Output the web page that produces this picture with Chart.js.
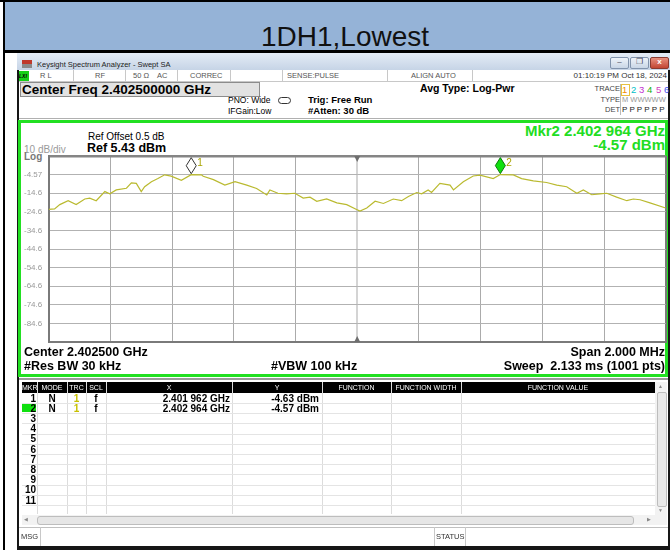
<!DOCTYPE html>
<html lang="en">
<head>
<meta charset="UTF-8">
<title>1DH1,Lowest</title>
<script src="https://cdn.jsdelivr.net/npm/chart.js"></script>
<style>
    body {
        margin: 0;
        width: 670px;
        height: 550px;
        position: relative;
        overflow: hidden;
        background: #fff;
        font-family: "Liberation Sans", Arial, sans-serif;
        color: #000;
    }
    .a { position: absolute; white-space: nowrap; line-height: 1; }
    .b { font-weight: bold; }
    .r { text-align: right; }
    .c { text-align: center; }
    .st { font-size: 7.5px; color: #555; top: 72px; }
    .vl { position: absolute; width: 1px; background: #c8c8c8; }
    .hl { position: absolute; height: 1px; background: #e4e4e4; }
    .th { font-size: 7px; color: #fff; top: 384px; }
    .row { font-size: 10px; font-weight: bold; }
    #sa { position: absolute; left: 20px; top: 121px; }
</style>
</head>
<body>
<script>
    // trace 1 (MHz, dBm)
    const freqMHz = [
        2401.500, 2401.519, 2401.536, 2401.563, 2401.589, 2401.617, 2401.633, 2401.654,
        2401.682, 2401.698, 2401.719, 2401.752, 2401.768, 2401.784, 2401.800, 2401.811,
        2401.833, 2401.854, 2401.876, 2401.897, 2401.930, 2401.962, 2401.995, 2402.001,
        2402.034, 2402.071, 2402.104, 2402.142, 2402.174, 2402.207, 2402.217, 2402.243,
        2402.271, 2402.298, 2402.325, 2402.347, 2402.369, 2402.401, 2402.434, 2402.466,
        2402.498, 2402.509, 2402.531, 2402.558, 2402.585, 2402.617, 2402.644, 2402.666,
        2402.693, 2402.709, 2402.730, 2402.741, 2402.768, 2402.801, 2402.812, 2402.844,
        2402.876, 2402.898, 2402.941, 2402.964, 2403.006, 2403.033, 2403.071, 2403.114,
        2403.147, 2403.179, 2403.212, 2403.233, 2403.260, 2403.287, 2403.309, 2403.341,
        2403.374, 2403.395, 2403.417, 2403.449, 2403.500
    ];
    const levelDbm = [
        -23.3, -23.0, -20.7, -18.6, -20.7, -17.7, -17.2, -18.6,
        -13.7, -14.9, -12.8, -11.9, -9.0, -9.3, -13.7, -11.1,
        -8.4, -6.7, -4.7, -5.4, -7.6, -4.63, -4.7, -5.5,
        -7.3, -10.2, -8.4, -10.2, -12.0, -15.5, -12.8, -14.6,
        -14.9, -14.6, -17.2, -16.7, -18.9, -17.6, -19.8, -20.7,
        -23.3, -24.2, -22.5, -18.9, -20.1, -17.7, -18.6, -16.3,
        -14.2, -14.9, -12.8, -14.2, -9.3, -10.2, -12.8, -8.4,
        -5.3, -4.9, -6.7, -4.57, -4.7, -6.7, -7.9, -8.8,
        -10.2, -11.1, -14.6, -12.8, -15.4, -14.9, -14.6, -16.7,
        -18.6, -17.7, -18.1, -19.8, -22.5
    ];

    const xTicks = [2401.5, 2401.7, 2401.9, 2402.1, 2402.3, 2402.5, 2402.7, 2402.9, 2403.1, 2403.3, 2403.5];
    const yTicks = [-94.57, -84.57, -74.57, -64.57, -54.57, -44.57, -34.57, -24.57, -14.57, -4.57, 5.43];
    const yTickLabels = ['', '-84.6', '-74.6', '-64.6', '-54.6', '-44.6', '-34.6', '-24.6', '-14.6', '-4.57', ''];

    const markerNames = ['1', '2'];
    const markerFreq = [2401.962, 2402.964];
    const markerLevel = [-4.63, -4.57];
    const markerFill = ['#ffffff', '#10e010'];
    const markerEdge = ['#333333', '#0a7a0a'];
    const centerFreq = 2402.5;
</script>

<!-- outer frame and title -->
<div class="a" style="left:0;top:0;width:670px;height:2px;background:#000"></div>
<div class="a" style="left:3px;top:0;width:2px;height:550px;background:#000"></div>
<div class="a" style="left:5px;top:2px;width:665px;height:48px;background:#95b3d7"></div>
<div class="a" style="left:261px;top:23px;font-size:28px;color:#111">1DH1,Lowest</div>
<div class="a" style="left:5px;top:50px;width:665px;height:3px;background:#000"></div>

<!-- analyzer window -->
<div class="a" style="left:17px;top:53px;width:653px;height:497px;background:#161616"></div>
<div class="a" style="left:17px;top:53px;width:653px;height:17px;background:linear-gradient(#e4ecf6,#c6d4e6)"></div>
<div class="a" style="left:22px;top:60px;width:10px;height:4px;background:#c0392b"></div>
<div class="a" style="left:22px;top:64px;width:10px;height:4px;background:#8a8a8a"></div>
<div class="a" style="left:37px;top:61px;font-size:7.5px;color:#222">Keysight Spectrum Analyzer - Swept SA</div>
<div class="a" style="left:610px;top:57px;width:17px;height:10px;border:1px solid #8294ad;border-radius:2px;background:linear-gradient(#eef3f9,#c9d6e6);font-size:8px;color:#445;text-align:center">&#8211;</div>
<div class="a" style="left:630px;top:57px;width:17px;height:10px;border:1px solid #8294ad;border-radius:2px;background:linear-gradient(#eef3f9,#c9d6e6);font-size:8px;color:#445;text-align:center">&#10064;</div>
<div class="a" style="left:650px;top:57px;width:17px;height:10px;border:1px solid #8a3a30;border-radius:2px;background:linear-gradient(#e8907f,#c24634);font-size:8px;color:#fff;text-align:center;font-weight:bold">x</div>

<div class="a" style="left:19px;top:70px;width:649px;height:476px;background:#fff"></div>

<!-- status row -->
<div class="a" style="left:19px;top:81px;width:649px;height:1px;background:#c8c8c8"></div>
<div class="vl" style="left:73px;top:70px;height:11px"></div>
<div class="vl" style="left:125px;top:70px;height:11px"></div>
<div class="vl" style="left:177px;top:70px;height:11px"></div>
<div class="vl" style="left:230px;top:70px;height:11px"></div>
<div class="vl" style="left:282px;top:70px;height:11px"></div>
<div class="vl" style="left:387px;top:70px;height:11px"></div>
<div class="vl" style="left:472px;top:70px;height:11px"></div>
<div class="a" style="left:19px;top:71px;width:10px;height:10px;background:#18d018;font-size:5px;font-weight:bold;font-style:italic;line-height:10px">LXI</div>
<div class="a st" style="left:40px">R L</div>
<div class="a st" style="left:95px">RF</div>
<div class="a st" style="left:133px">50 &Omega;</div>
<div class="a st" style="left:157px">AC</div>
<div class="a st" style="left:190px">CORREC</div>
<div class="a st" style="left:287px">SENSE:PULSE</div>
<div class="a st" style="left:411px">ALIGN AUTO</div>
<div class="a st r" style="left:560px;width:107px;font-size:8px;color:#333">01:10:19 PM Oct 18, 2024</div>

<!-- settings area -->
<div class="a" style="left:20px;top:82px;width:238px;height:13px;background:#e2e2e2;border:1px solid #8c8c8c"></div>
<div class="a b" style="left:22px;top:83px;font-size:13.5px">Center Freq 2.402500000 GHz</div>
<div class="a" style="left:228px;top:96px;font-size:8.5px">PNO: Wide</div>
<div class="a" style="left:228px;top:107px;font-size:8.5px">IFGain:Low</div>
<div class="a" style="left:278px;top:97px;width:11px;height:5px;border:1px solid #333;border-radius:4px"></div>
<div class="a b" style="left:308px;top:95px;font-size:9.5px">Trig: Free Run</div>
<div class="a b" style="left:308px;top:106px;font-size:9.5px">#Atten: 30 dB</div>
<div class="a b" style="left:420px;top:83px;font-size:10.5px">Avg Type: Log-Pwr</div>
<div class="a r" style="left:580px;width:40px;top:85px;font-size:7.5px;color:#444">TRACE</div>
<div class="a r" style="left:580px;width:40px;top:96px;font-size:7.5px;color:#444">TYPE</div>
<div class="a r" style="left:580px;width:40px;top:106px;font-size:7.5px;color:#444">DET</div>
<div class="a" style="left:620px;top:84px;width:48px;height:31px;border-left:1px solid #bbb"></div>
<div class="a" style="left:621px;top:84px;width:7px;height:10px;border:1px solid #e8c040"></div>
<div class="a" style="left:622px;top:85px;font-size:9.5px;color:#f08c00">1</div>
<div class="a" style="left:631px;top:85px;font-size:9.5px;color:#00c0c8">2</div>
<div class="a" style="left:639px;top:85px;font-size:9.5px;color:#c030d0">3</div>
<div class="a" style="left:647px;top:85px;font-size:9.5px;color:#10b010">4</div>
<div class="a" style="left:656px;top:85px;font-size:9.5px;color:#d040c0">5</div>
<div class="a" style="left:664px;top:85px;font-size:9.5px;color:#4050f0">6</div>
<div class="a" style="left:622px;top:96px;font-size:7.5px;color:#999">M WWWWW</div>
<div class="a" style="left:622px;top:106px;font-size:8px;color:#222;letter-spacing:2.1px">PPPPPP</div>
<div class="a" style="left:19px;top:118px;width:649px;height:1px;background:#b0b0b0"></div>

<!-- graticule panel -->
<div class="a" style="left:18px;top:120px;width:650px;height:257px;box-sizing:border-box;border:3px solid #22e022"></div>
<div class="a" style="left:88px;top:132px;font-size:10px">Ref Offset 0.5 dB</div>
<div class="a b" style="left:87px;top:142px;font-size:12.5px">Ref 5.43 dBm</div>
<div class="a" style="left:24px;top:145px;font-size:10px;color:#9a9a9a">10 dB/div</div>
<div class="a b" style="left:24px;top:152px;font-size:10px;color:#777">Log</div>
<div class="a b r" style="left:465px;width:200px;top:123px;font-size:15px;color:#22dd22">Mkr2 2.402 964 GHz</div>
<div class="a b r" style="left:465px;width:200px;top:137px;font-size:15px;color:#22dd22">-4.57 dBm</div>
<canvas id="sa" width="647" height="256"></canvas>
<div class="a b" style="left:24px;top:346px;font-size:12.5px">Center 2.402500 GHz</div>
<div class="a b" style="left:24px;top:360px;font-size:12.5px">#Res BW 30 kHz</div>
<div class="a b" style="left:271px;top:360px;font-size:12.5px">#VBW 100 kHz</div>
<div class="a b r" style="left:465px;width:200px;top:346px;font-size:12.5px">Span 2.000 MHz</div>
<div class="a b r" style="left:425px;width:240px;top:360px;font-size:12.5px">Sweep&nbsp; 2.133 ms (1001 pts)</div>
<div class="a" style="left:19px;top:378px;width:649px;height:2px;background:#9a9a9a"></div>

<!-- marker table -->
<div class="a" style="left:22px;top:382px;width:633px;height:11px;background:#000"></div>
<div class="a th c" style="left:22px;width:15px">MKR</div>
<div class="a th c" style="left:37px;width:30px">MODE</div>
<div class="a th c" style="left:67px;width:19px">TRC</div>
<div class="a th c" style="left:86px;width:20px">SCL</div>
<div class="a th c" style="left:106px;width:126px">X</div>
<div class="a th c" style="left:232px;width:90px">Y</div>
<div class="a th c" style="left:322px;width:69px">FUNCTION</div>
<div class="a th c" style="left:391px;width:70px">FUNCTION WIDTH</div>
<div class="a th c" style="left:461px;width:194px">FUNCTION VALUE</div>
<div class="vl" style="left:37px;top:382px;height:132px;background:#dcdcdc"></div>
<div class="vl" style="left:67px;top:382px;height:132px;background:#dcdcdc"></div>
<div class="vl" style="left:86px;top:382px;height:132px;background:#dcdcdc"></div>
<div class="vl" style="left:106px;top:382px;height:132px;background:#dcdcdc"></div>
<div class="vl" style="left:232px;top:382px;height:132px;background:#dcdcdc"></div>
<div class="vl" style="left:322px;top:382px;height:132px;background:#dcdcdc"></div>
<div class="vl" style="left:391px;top:382px;height:132px;background:#dcdcdc"></div>
<div class="vl" style="left:461px;top:382px;height:132px;background:#dcdcdc"></div>
<div class="a" style="left:22px;top:404px;width:14px;height:8px;background:#10e010"></div>
<div id="rows"></div>
<div class="a" style="left:655px;top:382px;width:12px;height:133px;background:#f2f2f2"></div>
<div class="a" style="left:657px;top:392px;width:8px;height:113px;background:#e8e8e8;border:1px solid #bdbdbd;border-radius:2px"></div>
<div class="a" style="left:658px;top:384px;font-size:5px;color:#888">&#9650;</div>
<div class="a" style="left:658px;top:508px;font-size:5px;color:#888">&#9660;</div>
<div class="a" style="left:22px;top:515px;width:645px;height:10px;background:#f2f2f2"></div>
<div class="a" style="left:37px;top:516px;width:595px;height:7px;background:#e6e6e6;border:1px solid #bdbdbd;border-radius:3px"></div>
<div class="a" style="left:24px;top:517px;font-size:5px;color:#888">&#9664;</div>
<div class="a" style="left:647px;top:517px;font-size:5px;color:#888">&#9654;</div>
<div class="a" style="left:19px;top:527px;width:649px;height:1px;background:#c0c0c0"></div>
<div class="vl" style="left:40px;top:527px;height:19px"></div>
<div class="vl" style="left:434px;top:527px;height:19px"></div>
<div class="vl" style="left:465px;top:527px;height:19px"></div>
<div class="a" style="left:21px;top:533px;font-size:7.5px;color:#333">MSG</div>
<div class="a" style="left:436px;top:533px;font-size:7.5px;color:#333">STATUS</div>

<script>
    // marker table rows
    const rowNums = ['1', '2', '3', '4', '5', '6', '7', '8', '9', '10', '11'];
    const rowMode = ['N', 'N'];
    const rowTrc = ['1', '1'];
    const rowScl = ['f', 'f'];
    const rowX = ['2.401 962 GHz', '2.402 964 GHz'];
    const rowY = ['-4.63 dBm', '-4.57 dBm'];

    let html = '';
    rowNums.forEach((n, i) => {
        const t = 393 + i * 10.2;
        html += `<div class="hl" style="left:22px;top:${t + 10}px;width:633px"></div>`;
        html += `<div class="a row r" style="left:22px;width:14px;top:${t + 0.5}px">${n}</div>`;
        if (i < rowMode.length) {
            html += `<div class="a row c" style="left:37px;width:30px;top:${t + 0.5}px">${rowMode[i]}</div>`;
            html += `<div class="a row c" style="left:67px;width:19px;top:${t + 0.5}px;color:#c8c000">${rowTrc[i]}</div>`;
            html += `<div class="a row c" style="left:86px;width:20px;top:${t + 0.5}px">${rowScl[i]}</div>`;
            html += `<div class="a row r" style="left:106px;width:124px;top:${t + 0.5}px">${rowX[i]}</div>`;
            html += `<div class="a row r" style="left:232px;width:87px;top:${t + 0.5}px">${rowY[i]}</div>`;
        }
    });
    document.getElementById('rows').outerHTML = html;

    const markerPlugin = {
        id: 'markers',
        afterDatasetsDraw(chart) {
            const ctx = chart.ctx;
            const xs = chart.scales.x, ys = chart.scales.y;
            const area = chart.chartArea;
            ctx.save();
            // center reference triangles
            const cx = xs.getPixelForValue(centerFreq);
            ctx.fillStyle = '#6e6e6e';
            ctx.beginPath();
            ctx.moveTo(cx - 3, area.top); ctx.lineTo(cx + 3, area.top); ctx.lineTo(cx, area.top + 6);
            ctx.closePath(); ctx.fill();
            ctx.beginPath();
            ctx.moveTo(cx - 3, area.bottom); ctx.lineTo(cx + 3, area.bottom); ctx.lineTo(cx, area.bottom - 6);
            ctx.closePath(); ctx.fill();
            // markers
            markerNames.forEach((name, i) => {
                const px = xs.getPixelForValue(markerFreq[i]);
                const py = ys.getPixelForValue(markerLevel[i]) - 1;
                ctx.beginPath();
                ctx.moveTo(px, py);
                ctx.lineTo(px - 5, py - 8);
                ctx.lineTo(px, py - 16);
                ctx.lineTo(px + 5, py - 8);
                ctx.closePath();
                ctx.fillStyle = markerFill[i];
                ctx.fill();
                ctx.lineWidth = 1;
                ctx.strokeStyle = markerEdge[i];
                ctx.stroke();
                ctx.fillStyle = '#a8a400';
                ctx.font = '10px "Liberation Sans", Arial';
                ctx.textBaseline = 'middle';
                ctx.fillText(name, px + 6, py - 10);
            });
            ctx.restore();
        }
    };

    const traceData = freqMHz.map((f, i) => ({ x: f, y: levelDbm[i] }));

    new Chart(document.getElementById('sa'), {
        type: 'line',
        data: {
            datasets: [{
                data: traceData,
                borderColor: 'rgb(186, 186, 48)',
                borderWidth: 1.2,
                pointRadius: 0,
                tension: 0
            }]
        },
        options: {
            responsive: false,
            animation: false,
            devicePixelRatio: 1,
            layout: { padding: { left: 4, right: 1.3, top: 35, bottom: 35 } },
            plugins: {
                legend: { display: false },
                tooltip: { enabled: false }
            },
            scales: {
                x: {
                    type: 'linear',
                    min: xTicks[0],
                    max: xTicks[xTicks.length - 1],
                    afterBuildTicks: axis => { axis.ticks = xTicks.map(v => ({ value: v })); },
                    afterFit: axis => { axis.height = 0; },
                    ticks: { display: false },
                    grid: {
                        drawTicks: false,
                        color: c => c.index === 0 || c.index === 10 ? '#7a7a7a' : (c.index === 5 ? '#d4d4d4' : '#ababab'),
                        lineWidth: c => c.index === 0 || c.index === 10 || c.index === 5 ? 2 : 1
                    },
                    border: { display: true, color: '#7a7a7a', width: 2 }
                },
                y: {
                    min: yTicks[0],
                    max: yTicks[yTicks.length - 1],
                    afterBuildTicks: axis => { axis.ticks = yTicks.map(v => ({ value: v })); },
                    afterFit: axis => { axis.width = 24.7; },
                    ticks: {
                        crossAlign: 'far',
                        padding: 0,
                        color: '#999',
                        font: { family: '"Liberation Sans", Arial', size: 8 },
                        callback: (v, i) => yTickLabels[i]
                    },
                    grid: {
                        drawTicks: false,
                        color: c => c.index === 10 ? '#858585' : '#b2b2b2',
                        lineWidth: c => c.index === 10 ? 2.5 : 1
                    },
                    border: { display: true, color: '#7a7a7a', width: 2 }
                }
            }
        },
        plugins: [markerPlugin]
    });
</script>
</body>
</html>
